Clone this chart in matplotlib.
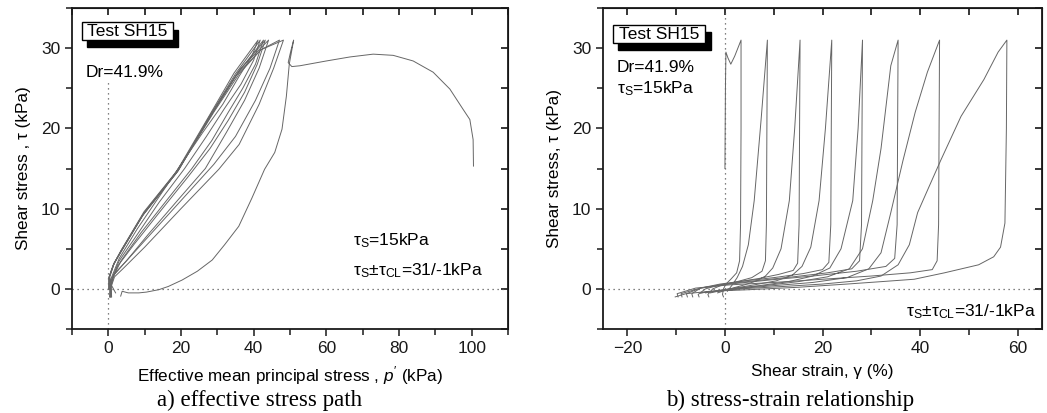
import matplotlib
matplotlib.use("Agg")
import matplotlib.pyplot as plt
from matplotlib.patches import Rectangle
from matplotlib.ticker import MultipleLocator

plt.rcParams["font.family"] = ["Liberation Sans", "DejaVu Sans"]
plt.rcParams["mathtext.fontset"] = "custom"
plt.rcParams["mathtext.rm"] = "Liberation Sans"
plt.rcParams["mathtext.it"] = "Liberation Sans:italic"

# ---- a) effective stress path: p' (kPa) and tau (kPa), one list per cycle ----
path_p = [
    [100.5, 100.4, 99.5, 97.6, 94.0, 89.4, 83.9, 78.4, 72.9, 66.5, 60.0, 52.7, 50.5, 49.5,
     50.2, 51.0, 49.8, 49.0, 47.8, 45.8, 43.0, 39.5, 35.9, 32.0, 28.6, 24.5, 20.3, 16.5,
     13.9, 10.5, 8.4, 5.5, 3.8, 3.4],
    [2.0, 0.8, 0.4, 1.6, 3.8, 9.8, 19.4, 29.5, 35.0, 42.0, 48.2,
     45.5, 41.5, 36.0, 30.4, 20.0, 10.0, 4.0, 1.7, 0.8, 0.9],
    [0.4, 0.3, 1.7, 4.0, 10.0, 19.5, 29.0, 36.0, 42.0, 47.1,
     44.5, 40.5, 35.0, 29.0, 20.0, 10.0, 4.0, 1.5, 0.7, 0.8],
    [0.3, 0.3, 1.6, 3.8, 9.8, 19.3, 28.5, 36.5, 44.1,
     41.5, 37.5, 32.5, 26.7, 19.0, 11.0, 5.0, 1.5, 0.6, 0.7],
    [0.3, 0.2, 1.5, 3.7, 9.6, 19.2, 28.4, 36.0, 43.2,
     41.0, 37.5, 33.0, 28.0, 22.0, 14.0, 7.0, 2.5, 0.6, 0.6],
    [0.2, 0.2, 1.4, 3.6, 9.5, 19.0, 28.2, 35.5, 42.7,
     40.5, 37.0, 33.0, 28.5, 23.0, 16.0, 9.0, 3.5, 0.8, 0.5],
    [0.2, 0.2, 1.4, 3.5, 9.4, 18.8, 28.0, 35.0, 41.8,
     40.0, 36.5, 32.0, 27.0, 21.0, 14.0, 8.0, 3.0, 0.5, 0.4],
    [0.1, 0.2, 1.3, 3.4, 9.3, 18.6, 27.8, 34.6, 41.2,
     39.5, 36.0, 31.5, 26.0, 20.0, 14.0, 8.0, 3.0, 0.5, 0.4],
]
path_tau = [
    [15.3, 18.6, 21.1, 22.4, 24.9, 27.0, 28.4, 29.1, 29.25, 28.9, 28.4, 27.8, 27.7, 28.2,
     29.6, 31.0, 28.0, 24.0, 19.9, 17.0, 14.9, 11.3, 7.8, 5.5, 3.6, 2.2, 1.1, 0.3,
     -0.1, -0.4, -0.5, -0.5, -0.3, -0.9],
    [-0.5, 0.5, 1.5, 3.2, 5.0, 9.6, 15.0, 22.5, 26.5, 29.8, 31.0,
     27.5, 23.0, 18.0, 14.9, 10.0, 5.2, 2.5, 1.5, 0.3, -1.0],
    [0.0, 1.5, 3.3, 5.0, 9.6, 15.0, 22.0, 26.8, 29.8, 31.0,
     27.5, 23.5, 19.0, 15.5, 11.0, 6.0, 3.0, 1.7, 0.2, -1.0],
    [0.0, 1.6, 3.2, 4.9, 9.4, 14.8, 22.0, 27.5, 31.0,
     27.5, 23.5, 19.5, 15.0, 11.0, 6.8, 3.5, 1.8, 0.3, -1.0],
    [0.0, 1.5, 3.1, 4.8, 9.3, 14.7, 21.8, 27.2, 31.0,
     28.0, 24.5, 21.0, 17.5, 14.0, 9.5, 5.5, 2.8, 0.5, -1.0],
    [0.0, 1.4, 3.0, 4.8, 9.2, 14.6, 21.6, 26.8, 31.0,
     28.0, 25.0, 22.0, 18.5, 15.0, 11.0, 7.0, 3.5, 1.0, -1.0],
    [0.0, 1.4, 3.0, 4.7, 9.1, 14.5, 21.6, 26.8, 31.0,
     28.5, 25.5, 22.5, 19.0, 15.0, 10.8, 6.8, 3.5, 0.8, -1.0],
    [0.0, 1.4, 2.9, 4.7, 9.1, 14.5, 21.6, 26.9, 31.0,
     29.0, 26.5, 23.0, 19.5, 15.5, 11.5, 7.5, 3.8, 1.0, -1.0],
]

# ---- b) stress-strain: shear strain gamma (%) and tau (kPa), one list per cycle ----
strain_g = [
    [0.0, 0.1, 0.2, 0.6, 1.2, 2.0, 3.3, 3.3, 3.2, 3.0, 2.4, 1.2, 0.2, -0.3, -0.5, -0.3],
    [0.5, 1.5, 2.5, 3.6, 4.8, 6.0, 7.4, 8.7,
     8.6, 8.5, 8.3, 7.6, 5.5, 2.5, -0.5, -2.5, -3.5, -3.3],
    [-1.5, 1.0, 4.0, 6.5, 8.3, 9.8, 11.5, 13.2, 14.3, 15.4,
     15.3, 15.2, 14.9, 14.0, 11.0, 7.0, 3.0, -1.0, -4.0, -5.5, -5.3],
    [-3.0, 1.0, 6.0, 10.5, 13.8, 15.8, 17.6, 19.3, 20.6, 21.9,
     21.8, 21.7, 21.3, 20.0, 16.0, 10.0, 4.0, -1.0, -5.0, -6.8, -6.6],
    [-4.0, 1.0, 7.0, 13.0, 18.0, 21.5, 23.8, 26.2, 27.3, 28.2,
     28.1, 28.0, 27.6, 26.0, 21.0, 14.0, 6.0, 0.0, -5.0, -7.9, -7.7],
    [-5.0, 1.0, 8.0, 15.0, 21.0, 25.5, 28.2, 30.3, 32.0, 34.0, 35.5,
     35.4, 35.3, 34.8, 33.0, 27.0, 18.0, 9.0, 1.0, -5.0, -9.0, -8.8],
    [-5.0, 2.0, 10.0, 18.0, 25.0, 29.5, 32.0, 34.0, 36.5, 39.0, 41.5, 44.0,
     43.9, 43.8, 43.5, 42.5, 38.0, 30.0, 20.0, 10.0, 1.0, -6.0, -9.8, -9.6],
    [-5.0, 3.0, 12.0, 20.0, 27.0, 32.0, 35.5, 37.8, 39.5, 41.6, 44.3, 48.4, 53.1, 56.0, 57.8,
     57.7, 57.4, 56.5, 55.1, 52.0, 45.0, 38.8, 32.0, 25.0, 15.0, 5.0, -3.0, -8.0, -10.2],
]
strain_tau = [
    [15.0, 25.0, 29.5, 28.8, 28.0, 29.0, 31.0, 20.0, 8.0, 3.5, 2.0, 1.2, 0.6, 0.0, -0.7, -1.0],
    [-0.3, 0.5, 1.4, 2.8, 5.5, 11.0, 21.0, 31.0,
     20.0, 8.0, 3.5, 2.2, 1.4, 0.9, 0.5, 0.0, -0.7, -1.0],
    [-0.5, 0.0, 0.5, 1.0, 1.6, 2.6, 5.0, 11.0, 20.0, 31.0,
     20.0, 8.0, 3.2, 2.3, 1.8, 1.3, 0.9, 0.5, 0.0, -0.7, -1.0],
    [-0.5, 0.0, 0.5, 1.0, 1.7, 2.8, 5.2, 11.0, 20.0, 31.0,
     20.0, 8.0, 3.3, 2.4, 1.9, 1.4, 1.0, 0.6, 0.1, -0.6, -1.0],
    [-0.5, 0.0, 0.4, 0.9, 1.6, 2.6, 5.0, 11.0, 20.0, 31.0,
     20.0, 8.0, 3.5, 2.5, 2.0, 1.5, 1.0, 0.6, 0.1, -0.6, -1.0],
    [-0.5, 0.0, 0.4, 0.9, 1.5, 2.5, 5.0, 11.0, 17.5, 27.8, 31.0,
     20.0, 8.0, 3.8, 2.8, 2.2, 1.6, 1.1, 0.6, 0.1, -0.6, -1.0],
    [-0.5, 0.0, 0.4, 0.8, 1.4, 2.5, 4.5, 9.5, 16.0, 22.0, 27.0, 31.0,
     20.0, 8.0, 3.5, 2.4, 2.0, 1.6, 1.2, 0.8, 0.5, 0.1, -0.6, -1.0],
    [-0.5, 0.0, 0.3, 0.6, 1.0, 1.6, 3.0, 5.5, 9.5, 12.4, 16.1, 21.5, 26.1, 29.5, 31.0,
     20.0, 8.2, 5.2, 4.0, 3.0, 2.0, 1.2, 0.9, 0.6, 0.2, -0.1, -0.3, -0.6, -1.0],
]

LINE = "0.4"


def style_axes(ax, xlim, xmajor, xminor):
    ax.set_xlim(*xlim)
    ax.set_ylim(-5, 35)
    ax.xaxis.set_major_locator(MultipleLocator(xmajor))
    ax.xaxis.set_minor_locator(MultipleLocator(xminor))
    ax.yaxis.set_major_locator(MultipleLocator(10))
    ax.yaxis.set_minor_locator(MultipleLocator(5))
    for s in ax.spines.values():
        s.set_linewidth(1.3)
        s.set_color("0.1")
    ax.tick_params(which="both", direction="out", top=False, right=False,
                   labelsize=12.5, width=1.1, colors="0.1")
    ax.tick_params(which="major", length=5)
    ax.tick_params(which="minor", length=4)
    top = ax.secondary_xaxis("top")
    top.xaxis.set_major_locator(MultipleLocator(xmajor))
    top.xaxis.set_minor_locator(MultipleLocator(xminor))
    top.tick_params(which="both", direction="in", labeltop=False, length=5, width=1.1)
    right = ax.secondary_yaxis("right")
    right.yaxis.set_major_locator(MultipleLocator(10))
    right.yaxis.set_minor_locator(MultipleLocator(5))
    right.tick_params(which="both", direction="in", labelright=False, length=5, width=1.1)
    ax.axhline(0, color="0.35", lw=0.9, ls=(0, (1, 3)))


def test_box(ax, x0, y0, w, h, dx, dy):
    # white label box with a black drop shadow (Origin style)
    ax.add_patch(Rectangle((x0 + dx, y0 - dy), w, h, transform=ax.transAxes,
                           fc="black", ec="black", lw=1.0, zorder=4))
    ax.add_patch(Rectangle((x0, y0), w, h, transform=ax.transAxes,
                           fc="white", ec="black", lw=1.0, zorder=5))
    ax.text(x0 + w / 2, y0 + h / 2, "Test SH15", transform=ax.transAxes, fontsize=12.5,
            ha="center", va="center", zorder=6)


fig = plt.figure(figsize=(10.47, 4.13), dpi=100)
W, H = 1047, 413
ax1 = fig.add_axes([72 / W, 1 - 329 / H, (508 - 72) / W, (329 - 8) / H])
ax2 = fig.add_axes([603 / W, 1 - 329 / H, (1042 - 603) / W, (329 - 8) / H])

# panel a
style_axes(ax1, (-10, 110), 20, 10)
ax1.plot([0, 0], [-5, 26], color="0.35", lw=0.9, ls=(0, (1, 3)))
for p, t in zip(path_p, path_tau):
    ax1.plot(p, t, color=LINE, lw=0.7)
ax1.set_xlabel("Effective mean principal stress , $\\it{p'}$ (kPa)", fontsize=12.3, labelpad=6)
ax1.set_ylabel("Shear stress , \u03c4 (kPa)", fontsize=12.3, labelpad=7)
test_box(ax1, 0.023, 0.900, 0.209, 0.055, 0.012, 0.022)
ax1.text(0.032, 0.775, "Dr=41.9%", transform=ax1.transAxes, fontsize=12.5, va="bottom")
ax1.text(0.645, 0.262, "\u03c4$_{\\rm S}$=15kPa", transform=ax1.transAxes, fontsize=12.5)
ax1.text(0.645, 0.168, "\u03c4$_{\\rm S}$\u00b1\u03c4$_{\\rm CL}$=31/-1kPa",
         transform=ax1.transAxes, fontsize=12.5)

# panel b
style_axes(ax2, (-25, 65), 20, 10)
ax2.axvline(0, color="0.35", lw=0.9, ls=(0, (1, 3)))
for g, t in zip(strain_g, strain_tau):
    ax2.plot(g, t, color=LINE, lw=0.7)
ax2.set_xlabel("Shear strain, \u03b3 (%)", fontsize=12.3, labelpad=6)
ax2.set_ylabel("Shear stress, \u03c4 (kPa)", fontsize=12.3, labelpad=7)
test_box(ax2, 0.023, 0.891, 0.21, 0.056, 0.012, 0.022)
ax2.text(0.032, 0.79, "Dr=41.9%", transform=ax2.transAxes, fontsize=12.5, va="bottom")
ax2.text(0.032, 0.72, "\u03c4$_{\\rm S}$=15kPa", transform=ax2.transAxes, fontsize=12.5,
         va="bottom")
ax2.text(0.985, 0.04, "\u03c4$_{\\rm S}$\u00b1\u03c4$_{\\rm CL}$=31/-1kPa",
         transform=ax2.transAxes, fontsize=12.5, ha="right")

# captions
fig.text(260 / W, 1 - 400 / H, "a) effective stress path", family="Liberation Serif",
         fontsize=16.5, ha="center", va="center")
fig.text(790 / W, 1 - 400 / H, "b) stress-strain relationship", family="Liberation Serif",
         fontsize=16.5, ha="center", va="center")

fig.savefig("out.png", dpi=100)
